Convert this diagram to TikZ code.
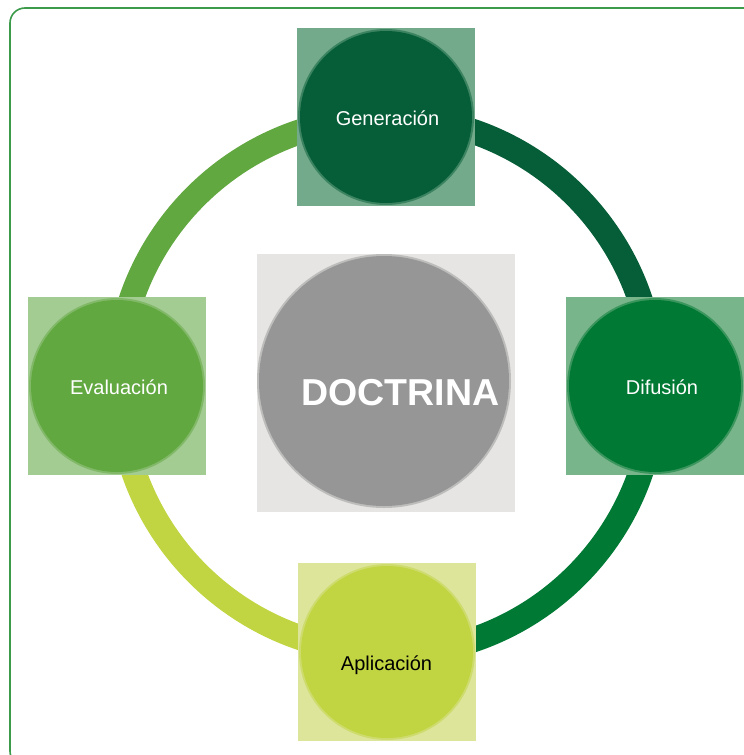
\documentclass[tikz,border=0pt]{standalone}
\usepackage{fontspec}
\setmainfont{Liberation Sans}
\usetikzlibrary{backgrounds}
\definecolor{genC}{RGB}{6,94,56}
\definecolor{genT}{RGB}{114,170,139}
\definecolor{difC}{RGB}{0,121,52}
\definecolor{difT}{RGB}{120,181,138}
\definecolor{evaC}{RGB}{98,168,65}
\definecolor{evaT}{RGB}{163,204,146}
\definecolor{aplC}{RGB}{193,212,65}
\definecolor{aplT}{RGB}{220,229,154}
\definecolor{docC}{RGB}{150,150,150}
\definecolor{docT}{RGB}{230,229,227}
\definecolor{frameC}{RGB}{60,155,75}
\begin{document}
\begin{tikzpicture}[x=1pt,y=-1pt,
  tile/.style={fill=#1,minimum size=178pt,inner sep=0pt},
  disc/.style={circle,fill=#1,preaction={draw=#1,draw opacity=.5,line width=4pt},minimum size=172pt,inner sep=0pt},
  ring/.style={draw=#1,line width=25pt},
  lbl/.style={anchor=base,inner sep=0pt,font=\fontsize{20}{24}\selectfont,text=white}]
\useasboundingbox (0,0) rectangle (744,755);
% outer frame, cut by the page
\begin{scope}
\clip (0,0) rectangle (744,755);
\draw[frameC,line width=1.6pt,rounded corners=15pt] (10,8) rectangle (764,766);
\end{scope}
\coordinate (mid) at (386,386);
% the four stages
\node[tile=genT] (genbox) at (386,117) {};
\node[disc=genC] (gen) at (genbox) {};
\node[lbl] (gentext) at (387.5,125.3) {Generación};
\node[tile=difT] (difbox) at (655,386) {};
\node[disc=difC] (dif) at (difbox) {};
\node[lbl] (diftext) at (662,394) {Difusión};
\node[tile=aplT] (aplbox) at (387,652) {};
\node[disc=aplC] (apl) at (aplbox) {};
\node[lbl,text=black] (apltext) at (386.5,670.7) {Aplicación};
\node[tile=evaT] (evabox) at (117,386) {};
\node[disc=evaC] (eva) at (evabox) {};
\node[lbl] (evatext) at (119,394) {Evaluación};
% centre
\node[tile=docT,minimum size=258pt] (docbox) at (386,383) {};
\node[disc=docC,minimum size=250pt] (doc) at (384,381) {};
\node[lbl,font=\fontsize{37.5}{42}\selectfont\bfseries] (doctext) at (400.5,405) {DOCTRINA};
% ring
\begin{pgfonlayer}{background}
\draw[ring=evaC] (eva.center) arc[start angle=180,end angle=270,radius=268];
\draw[ring=genC] (gen.center) arc[start angle=270,end angle=360,radius=268];
\draw[ring=difC] (dif.center) arc[start angle=0,end angle=90,radius=268];
\draw[ring=aplC] (apl.center) arc[start angle=90,end angle=180,radius=268];
\end{pgfonlayer}
\end{tikzpicture}
\end{document}
